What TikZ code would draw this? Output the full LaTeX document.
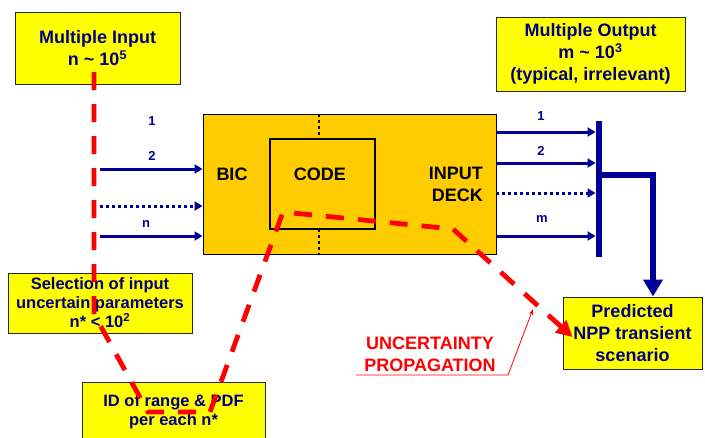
\documentclass[tikz,border=0pt]{standalone}
\usepackage{fontspec}
\setmainfont{Liberation Sans}
\usetikzlibrary{arrows.meta,calc}
\definecolor{navytext}{RGB}{0,0,128}
\definecolor{flowblue}{RGB}{0,0,153}
\definecolor{deckfill}{RGB}{255,204,0}
\definecolor{notefill}{RGB}{255,255,0}
\definecolor{uqred}{RGB}{255,0,0}
\begin{document}
\begin{tikzpicture}[x=1pt,y=-1pt,
  notebox/.style={draw=black!85, line width=1pt, fill=notefill, text=navytext,
    font=\bfseries\fontsize{18}{22}\selectfont, align=center, inner sep=0pt},
  smallnote/.style={notebox, font=\bfseries\fontsize{16.5}{19}\selectfont},
  blocklabel/.style={font=\bfseries\fontsize{18}{22}\selectfont, text=black, align=right, inner sep=0pt},
  chanlabel/.style={font=\bfseries\fontsize{13}{14}\selectfont, text=flowblue, inner sep=0pt},
  chan/.style={draw=flowblue, line width=3pt, -{Triangle[length=8pt,width=9pt]}},
  chandots/.style={chan, dash pattern=on 3pt off 3pt},
  sepdots/.style={draw=black, line width=2.6pt, dash pattern=on 3pt off 3pt},
  uqpath/.style={draw=uqred, line width=4.8pt, dash pattern=on 18pt off 14pt,
    -{Triangle[length=16pt,width=16pt]}},
  uqnote/.style={draw=uqred, line width=0.8pt, -{Stealth[length=6pt,width=4pt]}},
]
\useasboundingbox (0,0) rectangle (705,437);

% main block with the code inside
\node[draw=black, line width=1pt, fill=deckfill, minimum width=293, minimum height=140, inner sep=0pt] (main) at (349.5,184) {};
\draw[sepdots] (main.north -| 319,0) -- (319,139);
\draw[sepdots] (319,229) -- (main.south -| 319,0);
\node[draw=black, line width=2.2pt, minimum width=105, minimum height=90, inner sep=0pt] (code) at (322.5,184) {};
\node[blocklabel] (bic) at (232,174) {BIC};
\node[blocklabel] (codelab) at (320,174) {CODE};
\node[blocklabel, anchor=east] (deck) at (483,184) {INPUT\\DECK};

% notes
\node[notebox, minimum width=165, minimum height=72] (inbox) at (97.5,48)
  {Multiple Input\\n \textasciitilde{} 10\textsuperscript{5}};
\node[notebox, minimum width=189, minimum height=74] (outbox) at (590.5,54)
  {Multiple Output\\m \textasciitilde{} 10\textsuperscript{3}\\(typical, irrelevant)};
\node[smallnote, minimum width=184, minimum height=60] (sel) at (100,303)
  {Selection of input\\uncertain parameters\\n* < 10\textsuperscript{2}};
\node[smallnote, minimum width=183, minimum height=60] (idbox) at (173.5,412)
  {ID of range \& PDF\\per each n*};
\node[notebox, minimum width=139, minimum height=72] (pred) at (632.5,333)
  {Predicted\\NPP transient\\scenario};

% input channels
\node[chanlabel] (in1) at (152,121) {1};
\node[chanlabel] (in2) at (152,156) {2};
\node[chanlabel] (inn) at (146,224) {n};
\coordinate (s2) at (100,169);
\coordinate (s3) at (100,206);
\coordinate (sn) at (100,236);
\draw[chan] (s2) -- (main.west |- s2);
\draw[chandots] (s3) -- (main.west |- s3);
\draw[chan] (sn) -- (main.west |- sn);

% output channels and collector bar
\node[fill=flowblue, minimum width=6.5, minimum height=136, inner sep=0pt] (bar) at (599,189) {};
\node[chanlabel] (out1) at (541,116) {1};
\node[chanlabel] (out2) at (541,151) {2};
\node[chanlabel] (outm) at (542,219) {m};
\coordinate (o1) at (496,132);
\coordinate (o2) at (496,163);
\coordinate (o3) at (496,193);
\coordinate (om) at (496,236);
\draw[chan] (o1) -- (bar.west |- o1);
\draw[chan] (o2) -- (bar.west |- o2);
\draw[chandots] (o3) -- (bar.west |- o3);
\draw[chan] (om) -- (bar.west |- om);
\coordinate (bj) at (601,175);
\coordinate (pj) at ($(pred.north)+(20.5,0)$);
\draw[draw=flowblue, line width=5.5pt, -{Triangle[length=17pt,width=19pt]}] (bj) -| (pj);

% uncertainty propagation path
\coordinate (r0) at (94,72);
\coordinate (r1) at (94,314);
\coordinate (r2) at (148,412);
\coordinate (r3) at (210,412);
\coordinate (r4) at (283,212);
\coordinate (r5) at (453,229);
\draw[uqpath] (r0) -- (r1) -- (r2) -- (r3) -- (r4) -- (r5) -- ($(pred.west)+(10,4)$);

\node[font=\bfseries\fontsize{18}{22}\selectfont, text=uqred, align=center, inner sep=0pt] (uqlab) at (430,354)
  {UNCERTAINTY\\PROPAGATION};
\coordinate (u0) at (356,375);
\coordinate (u1) at (508,375);
\coordinate (u2) at (533,309);
\draw[uqnote] (u0) -- (u1) -- (u2);
\end{tikzpicture}
\end{document}
